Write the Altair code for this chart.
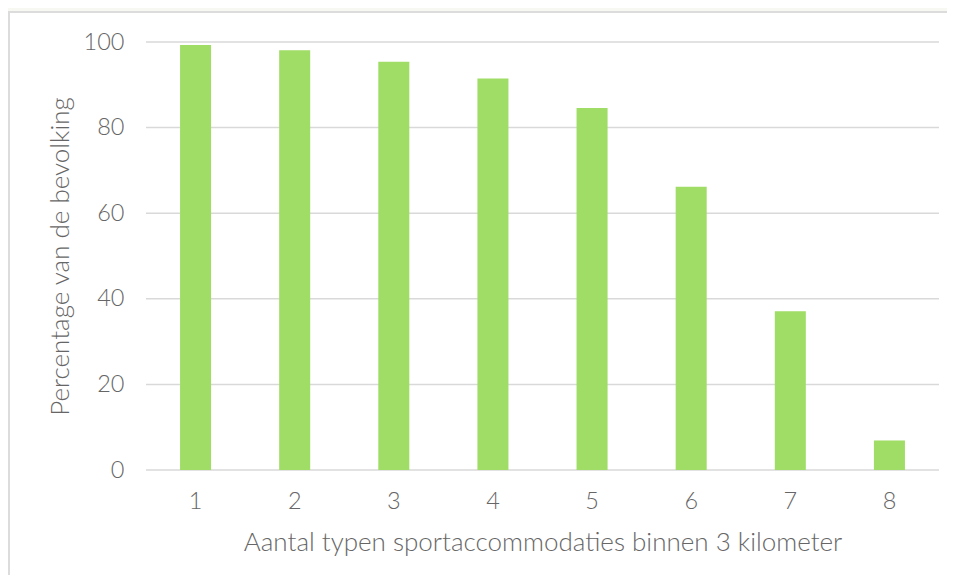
import altair as alt
import pandas as pd

categories = ["1", "2", "3", "4", "5", "6", "7", "8"]
values = [99.3, 98.1, 95.4, 91.5, 84.6, 66.2, 37.1, 6.9]
grid_values = [0, 20, 40, 60, 80, 100]

df = pd.DataFrame({"cat": categories, "val": values})
grid_df = pd.DataFrame({"g": grid_values})

FONT = "Lato"
TXT = "#666666"
W, H = 793, 428

x_enc = alt.X(
    "cat:N",
    sort=categories,
    scale=alt.Scale(paddingInner=0.687, paddingOuter=0.3435),
    axis=alt.Axis(
        title="Aantal typen sportaccommodaties binnen 3 kilometer",
        labelAngle=0,
        labelFont=FONT, labelFontSize=23.5, labelFontWeight=300, labelColor=TXT,
        labelPadding=19,
        titleFont=FONT, titleFontSize=26, titleFontWeight=300, titleColor=TXT,
        titlePadding=17,
        ticks=False, domain=False, grid=False,
    ),
)
y_scale = alt.Scale(domain=[0, 100], nice=False)

grid = alt.Chart(grid_df).mark_rule(color="#d9d9d9", strokeWidth=1.5).encode(
    y=alt.Y("g:Q", scale=y_scale,
            axis=alt.Axis(
                title="Percentage van de bevolking",
                values=grid_values,
                labelFont=FONT, labelFontSize=23.5, labelFontWeight=300, labelColor=TXT,
                labelPadding=22,
                titleFont=FONT, titleFontSize=26, titleFontWeight=300, titleColor=TXT,
                titlePadding=10,
                ticks=False, domain=False, grid=False,
            )),
)

bars = alt.Chart(df).mark_bar(color="#a0dd66").encode(
    x=x_enc,
    y=alt.Y("val:Q", scale=y_scale),
)

top_strip = alt.Chart(grid_df).mark_rect(color="#f8f8f3").encode(
    x=alt.value(-138), x2=alt.value(W + 10), y=alt.value(-34), y2=alt.value(-31)
)
top_border = alt.Chart(grid_df).mark_rule(color="#dcdcdc", strokeWidth=2).encode(
    x=alt.value(-138), x2=alt.value(W + 10), y=alt.value(-30)
)
left_border = alt.Chart(grid_df).mark_rule(color="#dcdcdc", strokeWidth=2).encode(
    x=alt.value(-137), y=alt.value(-30), y2=alt.value(H + 110)
)

chart = alt.layer(top_strip, top_border, left_border, grid, bars).properties(
    width=W,
    height=H,
    background="white",
    padding={"left": 138, "top": 34, "right": 8, "bottom": 105},
    autosize=alt.AutoSizeParams(type="none"),
).configure_view(stroke=None)

chart.save("out.html", embed_options={"renderer": "svg", "actions": False})
